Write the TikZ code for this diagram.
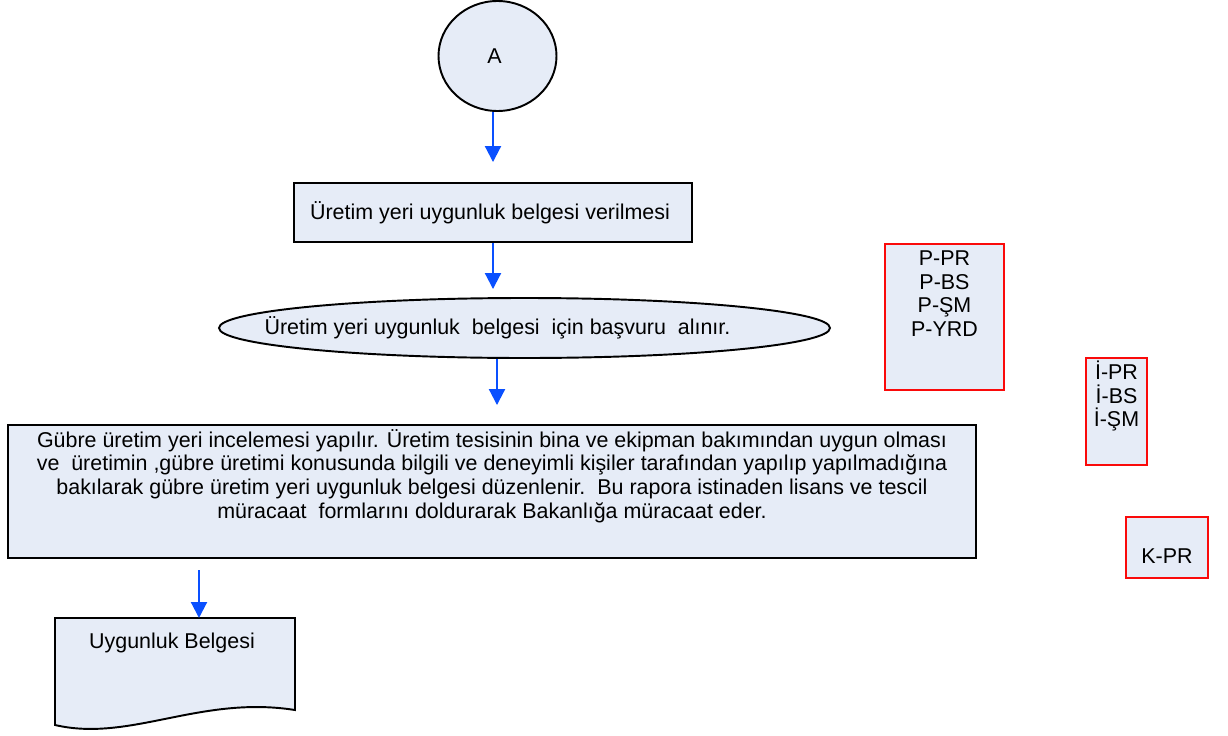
\documentclass[tikz,border=0pt]{standalone}
\usepackage{fontspec}
\setmainfont{Liberation Sans}
\usetikzlibrary{arrows.meta,positioning,shapes,calc}
\usepackage{xcolor}
\definecolor{boxfill}{RGB}{230,236,247}
\definecolor{flowblue}{RGB}{10,80,255}
\definecolor{refred}{RGB}{250,10,10}

\begin{document}
\begin{tikzpicture}[every node/.style={
    draw,
    fill=boxfill,
    line width=1.1pt,
    inner sep=0pt,
    align=center,
    font=\fontsize{12.2}{13.4}\selectfont
},
txt/.style={draw=none, fill=none},
refbox/.style={rectangle, draw=refred},
flow/.style={-{Triangle[length=0.32cm, width=0.32cm]}, flowblue, line width=1.2pt}]
    \useasboundingbox (0,0) rectangle (24.56,-14.72);

    \node (start_a) [ellipse, minimum width=2.36cm, minimum height=2.2cm, shift={(9.95,-1.12)}]
    {
        A
    };
    \node (certificate_step) [rectangle, minimum width=7.96cm, minimum height=1.18cm, shift={(9.86,-4.25)}]
    {
        Üretim yeri uygunluk belgesi verilmesi
    };
    \node (application_step) [ellipse, minimum width=12.22cm, minimum height=1.2cm, shift={(10.49,-6.56)},
        label={[txt, xshift=-0.54cm]center:Üretim yeri uygunluk\ \ belgesi\ \ için başvuru\ \ alınır.}]
    {};
    \node (inspection_step) [rectangle, minimum width=19.36cm, minimum height=2.66cm, shift={(9.84,-9.83)},
        label={[txt, anchor=north, yshift=-0.09cm]north:Gübre üretim yeri incelemesi yapılır. Üretim tesisinin bina ve ekipman bakımından uygun olması\\
        ve\ \ üretimin ,gübre üretimi konusunda bilgili ve deneyimli kişiler tarafından yapılıp yapılmadığına\\
        bakılarak gübre üretim yeri uygunluk belgesi düzenlenir.\ \ Bu rapora istinaden lisans ve tescil\\
        müracaat\ \ formlarını doldurarak Bakanlığa müracaat eder.}]
    {};

    % document symbol
    \draw[fill=boxfill, line width=1.1pt] (1.1,-12.36) -- (5.9,-12.36) -- (5.9,-14.2)
        .. controls (4.0,-13.9) and (2.6,-14.85) .. (1.1,-14.5) -- cycle;
    \node (certificate_doc) [txt, shift={(3.5,-12.86)}]
    {
        Uygunluk Belgesi
    };
    \coordinate (doc_top) at (3.98,-12.36);
    \coordinate (doc_feed) at (3.98,-11.4);

    % reference boxes
    \node (p_refs) [refbox, minimum width=2.38cm, minimum height=2.92cm, shift={(18.89,-6.34)},
        label={[txt, anchor=north, yshift=-0.14cm]north:P-PR\\P-BS\\P-ŞM\\P-YRD}]
    {};
    \node (i_refs) [refbox, minimum width=1.22cm, minimum height=2.14cm, shift={(22.33,-8.23)},
        label={[txt, anchor=north, yshift=-0.06cm]north:İ-PR\\İ-BS\\İ-ŞM}]
    {};
    \node (k_refs) [refbox, minimum width=1.64cm, minimum height=1.22cm, shift={(23.34,-10.95)},
        label={[txt, yshift=-0.17cm]center:K-PR}]
    {};

    \draw[flow] (start_a.south -| certificate_step.north) to ([yshift=0.4cm]certificate_step.north);
    \draw[flow] (certificate_step.south) to ($(certificate_step.south |- application_step.north)+(0,0.16)$);
    \draw[flow] ([xshift=-0.55cm]application_step.south) to ($(application_step.south |- inspection_step.north)+(-0.55,0.38)$);
    \draw[flow] (doc_feed) to (doc_top);
\end{tikzpicture}
\end{document}
